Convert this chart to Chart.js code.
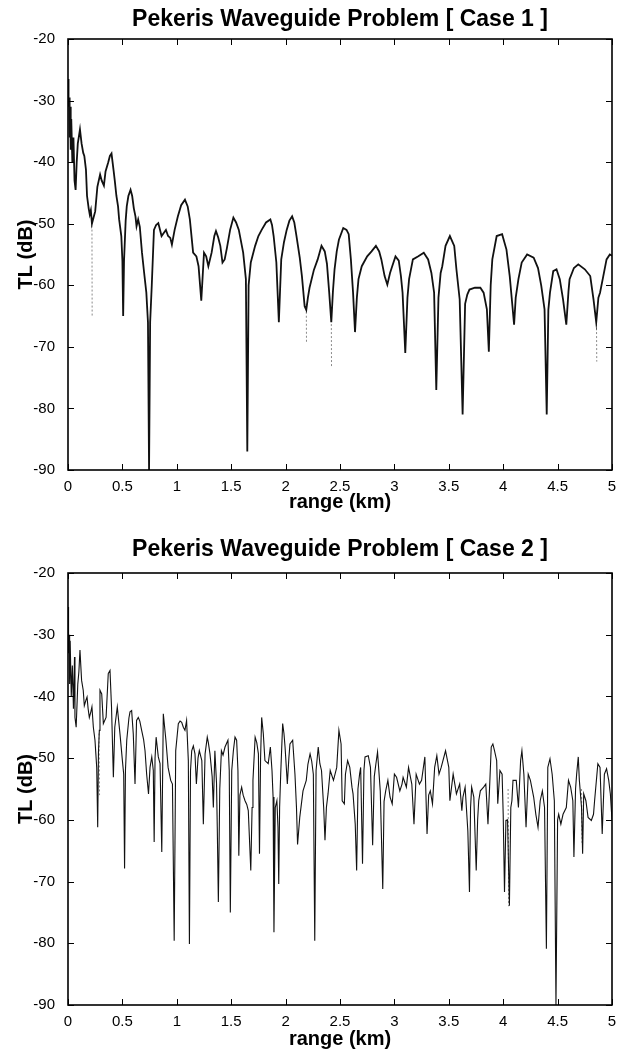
<!DOCTYPE html>
<html>
<head>
<meta charset="utf-8">
<title>Pekeris Waveguide Problem</title>
<script src="https://cdn.jsdelivr.net/npm/chart.js@4.4.0/dist/chart.umd.min.js"></script>
<style>
  body { margin: 0; background: #fff; }
  canvas { display: block; }
</style>
</head>
<body>
<canvas id="case1" width="628" height="525"></canvas>
<canvas id="case2" width="628" height="526"></canvas>
<script>
// axis ticks
const xTickValues = [0, 0.5, 1, 1.5, 2, 2.5, 3, 3.5, 4, 4.5, 5];
const xTickLabels = ['0', '0.5', '1', '1.5', '2', '2.5', '3', '3.5', '4', '4.5', '5'];
const yTickValues = [-90, -80, -70, -60, -50, -40, -30, -20];
const yTickLabels = ['-90', '-80', '-70', '-60', '-50', '-40', '-30', '-20'];

// Case 1 : range (km) / TL (dB)
const range1 = [
  0, 0.005, 0.01, 0.015, 0.02, 0.025, 0.03, 0.04, 0.05, 0.06,
  0.07, 0.08, 0.09, 0.11, 0.125, 0.14, 0.15, 0.165, 0.175, 0.19,
  0.2, 0.21, 0.22, 0.235, 0.25, 0.27, 0.28, 0.295, 0.31, 0.33,
  0.345, 0.37, 0.385, 0.4, 0.42, 0.43, 0.445, 0.46, 0.47, 0.49,
  0.5, 0.507, 0.515, 0.53, 0.54, 0.555, 0.575, 0.59, 0.605, 0.62,
  0.63, 0.645, 0.66, 0.68, 0.7, 0.72, 0.735, 0.745, 0.755, 0.77,
  0.79, 0.81, 0.83, 0.86, 0.88, 0.9, 0.92, 0.94, 0.955, 0.98,
  1.01, 1.04, 1.075, 1.1, 1.12, 1.15, 1.18, 1.2, 1.225, 1.25,
  1.27, 1.29, 1.32, 1.345, 1.36, 1.38, 1.4, 1.42, 1.44, 1.46,
  1.49, 1.52, 1.545, 1.57, 1.61, 1.635, 1.648, 1.66, 1.68, 1.72,
  1.75, 1.78, 1.82, 1.86, 1.875, 1.89, 1.915, 1.938, 1.96, 1.985,
  2.01, 2.035, 2.06, 2.08, 2.1, 2.13, 2.15, 2.175, 2.19, 2.205,
  2.22, 2.26, 2.295, 2.33, 2.36, 2.38, 2.4, 2.42, 2.435, 2.45,
  2.47, 2.49, 2.53, 2.56, 2.58, 2.6, 2.62, 2.638, 2.655, 2.67,
  2.7, 2.75, 2.79, 2.83, 2.86, 2.88, 2.91, 2.935, 2.96, 2.98,
  3.01, 3.04, 3.06, 3.075, 3.1, 3.12, 3.135, 3.17, 3.22, 3.27,
  3.31, 3.34, 3.365, 3.385, 3.405, 3.425, 3.44, 3.47, 3.51, 3.55,
  3.57, 3.6, 3.627, 3.65, 3.67, 3.69, 3.74, 3.79, 3.82, 3.85,
  3.868, 3.885, 3.9, 3.94, 3.99, 4.03, 4.06, 4.085, 4.1, 4.115,
  4.14, 4.17, 4.22, 4.28, 4.32, 4.35, 4.38, 4.4, 4.415, 4.43,
  4.46, 4.49, 4.52, 4.55, 4.58, 4.6, 4.61, 4.65, 4.69, 4.75,
  4.8, 4.83, 4.855, 4.875, 4.89, 4.92, 4.95, 4.98, 5
];
const tl1 = [
  -26.5, -31, -29.5, -36, -31, -38, -33, -40, -36, -43,
  -44.5, -40, -37, -34.7, -37, -38.5, -39, -41.2, -45.5, -47.5,
  -48.5, -47.8, -50, -49, -48, -44, -43.2, -42, -43, -43.8,
  -41.5, -40, -39, -38.6, -41.5, -43, -45.5, -47.2, -49.3, -52,
  -56, -65, -56, -49.5, -47.2, -45.5, -44.5, -45.5, -47.5, -48.8,
  -50.4, -49.3, -50.5, -54.7, -58, -61.2, -66, -90, -66, -60,
  -51, -50.2, -49.9, -52, -51.5, -51, -52, -52.3, -53.4, -51,
  -48.8, -47, -46.1, -47.2, -49.3, -54.7, -55.3, -56.9, -62.5, -54.7,
  -55.3, -56.9, -54.7, -52, -51.2, -52.2, -53.6, -56.3, -55.8, -54,
  -51, -49, -49.8, -51, -54.7, -59, -87, -60, -56.3, -53.6,
  -52, -51, -49.8, -49.3, -50.2, -52, -56.3, -66, -55.8, -53,
  -51, -49.5, -48.8, -49.8, -52, -55.5, -58.5, -63.4, -64, -62,
  -60.4, -57.5, -55.8, -53.6, -54.5, -56.5, -61, -66, -61, -57.4,
  -54.5, -52.6, -50.7, -51, -51.7, -55.8, -61.2, -67.6, -62, -59,
  -56.9, -55.3, -54.5, -53.6, -54.5, -55.8, -58.5, -59.9, -58, -56.9,
  -55.3, -56, -58.5, -61.2, -71, -62, -59, -55.8, -55.3, -54.7,
  -55.8, -58, -61.2, -77, -62, -58, -56.9, -53.6, -52, -53.6,
  -57.4, -62.3, -81, -63, -61.5, -60.7, -60.4, -60.4, -61.2, -63.9,
  -70.8, -60, -55.8, -52, -51.7, -54.2, -58.5, -63.4, -66.4, -62,
  -59, -56.3, -55, -55.5, -57.2, -60.1, -63.9, -81, -64, -61.2,
  -57.7, -57.4, -59, -62.3, -66.4, -61, -59, -57.2, -56.6, -57.4,
  -58.5, -62.3, -66, -62, -61.2, -58.5, -55.8, -55, -55.2
];
// second (dotted grey) solution where it dips below the solid one
const grayRange1 = [0.22, 0.222, 0.222, 2.19, 2.192, 2.192, 2.42, 2.422, 2.422, 4.857, 4.86];
const grayTl1 = [-49, -65, null, -63, -69.2, null, -65, -73.2, null, -65, -72.4];

// Case 2
const range2 = [
  0, 0.005, 0.01, 0.015, 0.02, 0.03, 0.04, 0.05, 0.06, 0.064,
  0.075, 0.09, 0.1, 0.11, 0.125, 0.14, 0.15, 0.165, 0.175, 0.185,
  0.196, 0.21, 0.22, 0.233, 0.248, 0.264, 0.273, 0.28, 0.288, 0.294,
  0.31, 0.325, 0.35, 0.37, 0.386, 0.4, 0.417, 0.43, 0.453, 0.478,
  0.5, 0.512, 0.52, 0.528, 0.54, 0.56, 0.57, 0.585, 0.6, 0.616,
  0.63, 0.646, 0.66, 0.677, 0.695, 0.708, 0.723, 0.74, 0.754, 0.77,
  0.784, 0.792, 0.8, 0.81, 0.83, 0.846, 0.862, 0.876, 0.9, 0.92,
  0.944, 0.96, 0.976, 0.99, 1.014, 1.03, 1.045, 1.06, 1.075, 1.09,
  1.106, 1.116, 1.126, 1.137, 1.152, 1.167, 1.18, 1.195, 1.207, 1.23,
  1.244, 1.26, 1.28, 1.29, 1.305, 1.325, 1.336, 1.35, 1.365, 1.372,
  1.382, 1.395, 1.41, 1.425, 1.443, 1.47, 1.482, 1.492, 1.505, 1.52,
  1.535, 1.55, 1.562, 1.57, 1.58, 1.596, 1.61, 1.627, 1.643, 1.657,
  1.68, 1.692, 1.7, 1.72, 1.735, 1.75, 1.76, 1.77, 1.78, 1.795,
  1.81, 1.84, 1.86, 1.875, 1.885, 1.893, 1.905, 1.92, 1.93, 1.937,
  1.945, 1.955, 1.973, 1.985, 1.995, 2.016, 2.03, 2.04, 2.065, 2.086,
  2.1, 2.11, 2.13, 2.16, 2.19, 2.205, 2.225, 2.24, 2.255, 2.268,
  2.28, 2.3, 2.315, 2.33, 2.35, 2.362, 2.375, 2.39, 2.41, 2.44,
  2.47, 2.49, 2.51, 2.52, 2.54, 2.55, 2.57, 2.59, 2.61, 2.62,
  2.64, 2.653, 2.665, 2.68, 2.69, 2.707, 2.72, 2.73, 2.76, 2.78,
  2.8, 2.815, 2.83, 2.845, 2.87, 2.893, 2.905, 2.92, 2.94, 2.96,
  2.98, 3, 3.02, 3.05, 3.07, 3.08, 3.11, 3.13, 3.16, 3.18,
  3.2, 3.23, 3.25, 3.28, 3.3, 3.315, 3.33, 3.35, 3.37, 3.39,
  3.41, 3.43, 3.47, 3.5, 3.51, 3.54, 3.56, 3.57, 3.6, 3.62,
  3.63, 3.65, 3.675, 3.69, 3.7, 3.71, 3.73, 3.752, 3.765, 3.775,
  3.79, 3.82, 3.84, 3.86, 3.875, 3.89, 3.905, 3.92, 3.94, 3.95,
  3.97, 3.99, 4, 4.012, 4.025, 4.04, 4.057, 4.07, 4.08, 4.09,
  4.12, 4.14, 4.16, 4.172, 4.19, 4.21, 4.23, 4.25, 4.28, 4.3,
  4.32, 4.34, 4.36, 4.38, 4.397, 4.41, 4.43, 4.45, 4.47, 4.485,
  4.5, 4.51, 4.53, 4.55, 4.58, 4.6, 4.62, 4.64, 4.65, 4.665,
  4.675, 4.69, 4.7, 4.72, 4.73, 4.74, 4.76, 4.78, 4.81, 4.83,
  4.84, 4.87, 4.89, 4.91, 4.93, 4.95, 4.97, 4.985, 5
];
const tl2 = [
  -25.5, -33, -30, -38, -31, -40, -35, -42, -33.6, -43.4,
  -45, -38, -36, -32.5, -37.4, -39, -41.5, -40.6, -40.1, -42,
  -43.4, -42.5, -41.7, -45, -47.1, -51.5, -61.2, -49, -45.5, -39,
  -39.6, -44.4, -43.4, -36.3, -35.8, -41.7, -53.1, -45, -41.7, -46.1,
  -50.4, -52.6, -67.9, -52, -47.1, -43.5, -42.5, -42.3, -46.1, -54.2,
  -43.9, -43.4, -44, -45.5, -47, -48.8, -52.6, -55.8, -51.5, -49.8,
  -52, -63.6, -50, -46.6, -49.8, -50.9, -65.2, -42.8, -47.1, -51.5,
  -53.6, -54.2, -79.6, -48.8, -44.4, -44, -44.2, -45, -45.5, -43.9,
  -50.4, -80.1, -52, -48.8, -48, -49.3, -54.2, -50, -48.8, -50.4,
  -60.7, -49.3, -46.6, -47.5, -49.3, -53, -58, -48.8, -54, -61.2,
  -73.3, -55, -48.8, -49.5, -48.2, -47.1, -52, -75, -52, -48.8,
  -46.6, -47.1, -52, -65.8, -56, -54.7, -56, -56.9, -57.5, -58.5,
  -68.2, -58, -53.6, -46.6, -47.5, -49.3, -65.5, -50, -43.4, -46,
  -50.4, -50.9, -48.2, -52, -56.3, -78.2, -58, -56.9, -61.2, -70.4,
  -58, -52.6, -44.4, -46, -48.2, -54.2, -50, -47.7, -47.1, -52.6,
  -58, -64, -59.6, -55.3, -53.6, -51, -49.3, -50.5, -52.6, -79.6,
  -52, -48.2, -50.9, -52, -58, -63.3, -58, -55.8, -52, -53.6,
  -51.5, -45.5, -47.7, -56.9, -57.4, -52.6, -50.4, -51.5, -54.7, -55.8,
  -60.7, -68.2, -55, -52.6, -51.5, -67.1, -52, -49.8, -49.6, -51.5,
  -64.1, -53, -50.9, -49, -55.3, -71.2, -57, -55.3, -53.6, -56.3,
  -57.4, -52.6, -53.1, -55.3, -54.2, -53.1, -54.7, -51.5, -54.2, -60.7,
  -52.6, -54.2, -53.6, -49.8, -62.3, -56, -55.3, -57.4, -51.5, -49.6,
  -52.6, -51.5, -48.8, -51.5, -56.9, -52.6, -54.7, -55.8, -54.2, -58.5,
  -56.3, -54.7, -61.8, -71.7, -58, -54.7, -56.3, -68.2, -60, -56.9,
  -55.3, -54.7, -54.2, -60.7, -54.7, -48.2, -47.7, -48.8, -50.4, -57.4,
  -52, -52.6, -59.1, -71.7, -60.1, -60, -73.9, -58, -56.9, -53.6,
  -53.6, -58, -50.4, -48.8, -52.6, -61.2, -52.6, -53.6, -56.3, -59.1,
  -61.2, -56.9, -55.3, -58, -80.9, -51.5, -50.1, -52.6, -56.9, -90,
  -60, -59.1, -60.7, -59.1, -58, -53.6, -54.7, -56.9, -66, -55,
  -52.6, -49.8, -53.6, -58, -65.5, -55.8, -56.9, -59.6, -60.1, -59.1,
  -56.9, -50.9, -51.5, -62.3, -52.6, -51.7, -53.6, -55.8, -60
];
const grayRange2 = [0.285, 0.29, 0.29, 4.045, 4.05, 4.05, 4.72, 4.725];
const grayTl2 = [-46, -56, null, -55, -74, null, -55, -64];

const fontFamily = '"Liberation Sans", Arial, Helvetica, sans-serif';

function pts(xs, ys) {
  return xs.map((x, i) => ({ x: x, y: ys[i] }));
}

// matlab style box with ticks pointing inward on all four sides
const matlabFrame = {
  id: 'matlabFrame',
  afterDatasetsDraw(chart) {
    const { ctx, chartArea: a, scales } = chart;
    const len = 6;
    ctx.save();
    ctx.strokeStyle = '#000';
    ctx.lineWidth = 1;
    ctx.beginPath();
    scales.x.ticks.forEach(t => {
      const px = Math.round(scales.x.getPixelForValue(t.value)) + 0.5;
      ctx.moveTo(px, a.bottom); ctx.lineTo(px, a.bottom - len);
      ctx.moveTo(px, a.top); ctx.lineTo(px, a.top + len);
    });
    scales.y.ticks.forEach(t => {
      const py = Math.round(scales.y.getPixelForValue(t.value)) + 0.5;
      ctx.moveTo(a.left, py); ctx.lineTo(a.left + len, py);
      ctx.moveTo(a.right, py); ctx.lineTo(a.right - len, py);
    });
    ctx.stroke();
    ctx.lineWidth = 1.6;
    ctx.strokeRect(a.left, a.top, a.right - a.left, a.bottom - a.top);
    ctx.restore();
  }
};

function drawCase(id, title, xs, ys, gxs, gys, look) {
  const ctx = document.getElementById(id).getContext('2d');
  return new Chart(ctx, {
    type: 'line',
    data: {
      datasets: [
        {
          data: pts(xs, ys),
          borderColor: '#111',
          borderWidth: look.lineWidth,
          pointRadius: 0,
          tension: 0
        },
        {
          data: pts(gxs, gys),
          borderColor: '#8a8a8a',
          borderWidth: 1,
          borderDash: [2, 2],
          pointRadius: 0,
          spanGaps: false
        }
      ]
    },
    options: {
      responsive: false,
      animation: false,
      devicePixelRatio: 1,
      layout: { padding: { left: 0, right: 16, top: 0, bottom: 0 } },
      plugins: {
        legend: { display: false },
        tooltip: { enabled: false },
        title: {
          display: true,
          text: title,
          fullSize: false,
          color: '#000',
          font: { family: fontFamily, size: 23, weight: 'bold' },
          padding: look.titlePad
        }
      },
      scales: {
        x: {
          type: 'linear',
          min: 0,
          max: 5,
          grid: { display: false },
          border: { display: false },
          afterBuildTicks: s => { s.ticks = xTickValues.map(v => ({ value: v })); },
          afterFit: s => { s.height = look.xAxisHeight; },
          ticks: {
            color: '#000',
            font: { family: fontFamily, size: 15 },
            padding: 0,
            maxRotation: 0,
            autoSkip: false,
            callback: (v, i) => xTickLabels[i]
          },
          title: {
            display: true,
            text: 'range (km)',
            color: '#000',
            font: { family: fontFamily, size: 20, weight: 'bold' },
            padding: { top: 0, bottom: look.xTitlePad }
          }
        },
        y: {
          type: 'linear',
          min: -90,
          max: -20,
          grid: { display: false },
          border: { display: false },
          afterBuildTicks: s => { s.ticks = yTickValues.map(v => ({ value: v })); },
          afterFit: s => { s.width = 68; },
          ticks: {
            color: '#000',
            font: { family: fontFamily, size: 15 },
            padding: 5,
            autoSkip: false,
            callback: (v, i) => yTickLabels[i]
          },
          title: {
            display: true,
            text: 'TL (dB)',
            color: '#000',
            font: { family: fontFamily, size: 20, weight: 'bold' },
            padding: { top: 14, bottom: 0 }
          }
        }
      }
    },
    plugins: [matlabFrame]
  });
}

drawCase('case1', 'Pekeris Waveguide Problem [ Case 1 ]', range1, tl1, grayRange1, grayTl1,
  { lineWidth: 1.8, titlePad: { top: 6, bottom: 5.4 }, xAxisHeight: 55, xTitlePad: 11 });
drawCase('case2', 'Pekeris Waveguide Problem [ Case 2 ]', range2, tl2, grayRange2, grayTl2,
  { lineWidth: 1.1, titlePad: { top: 11, bottom: 9.4 }, xAxisHeight: 46, xTitlePad: 0 });
</script>
</body>
</html>
